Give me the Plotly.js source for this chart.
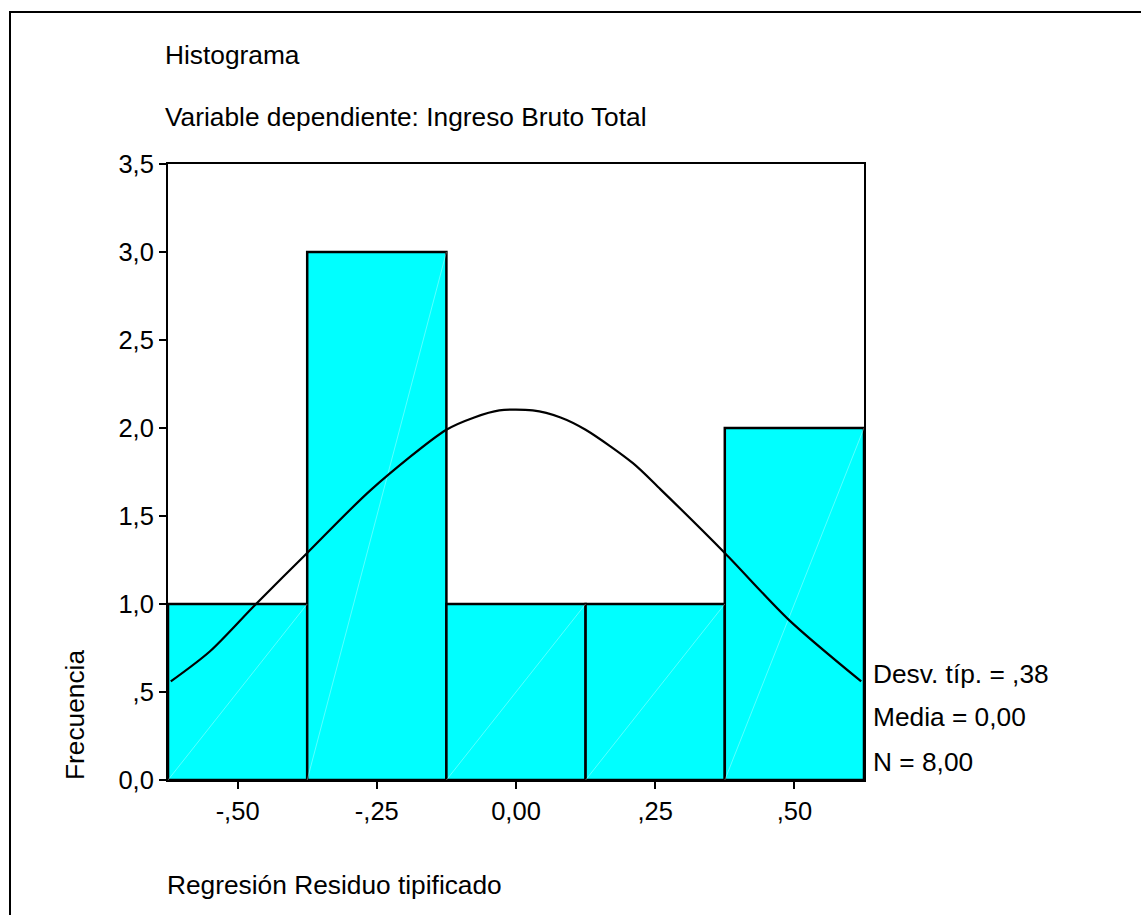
<!DOCTYPE html>
<html>
<head>
<meta charset="utf-8">
<script src="https://cdn.plot.ly/plotly-3.0.1.min.js"></script>
<style>
  html, body { margin: 0; padding: 0; background: #fff; }
  #chart { width: 1141px; height: 915px; }
</style>
</head>
<body>
<div id="chart"></div>
<script>
// ---- Data ----
const binCenters = [-0.50, -0.25, 0.00, 0.25, 0.50];
const binWidth = 0.25;
const counts = [1, 3, 1, 1, 2];

const curveX = [-0.62, -0.55, -0.47, -0.375, -0.26, -0.125, -0.075, -0.03, 0.03, 0.08, 0.125, 0.21, 0.26, 0.375, 0.49, 0.62];
const curveY = [0.56, 0.73, 0.99, 1.29, 1.65, 1.99, 2.06, 2.10, 2.10, 2.06, 1.99, 1.80, 1.65, 1.29, 0.91, 0.56];

const xTickVals = [-0.50, -0.25, 0.00, 0.25, 0.50];
const xTickText = ['-,50', '-,25', '0,00', ',25', ',50'];
const yTickVals = [0, 0.5, 1, 1.5, 2, 2.5, 3, 3.5];
const yTickText = ['0,0', ',5', '1,0', '1,5', '2,0', '2,5', '3,0', '3,5'];

const titleLines = ['Histograma', 'Variable dependiente: Ingreso Bruto Total'];
const statsLines = ['Desv. típ. = ,38', 'Media = 0,00', 'N = 8,00'];
const xTitle = 'Regresión Residuo tipificado';
const yTitle = 'Frecuencia';

// ---- Layout geometry (pixels) ----
const W = 1141, H = 915;
const L = 168, T = 164, R = 864, B = 780;
const pw = R - L, ph = B - T;
const px = v => (v - L) / pw;
const py = v => (B - v) / ph;

const FONT = 'Liberation Sans, Arial, sans-serif';
const FS = 25.5;   // tick labels
const FT = 26.3;   // texts

// diagonal hatch artefacts inside bars (derived from bar geometry)
const diagX = [], diagY = [];
binCenters.forEach((c, i) => {
  diagX.push(c - binWidth / 2, c + binWidth / 2, null);
  diagY.push(0, counts[i], null);
});

const traces = [
  {
    type: 'bar', x: binCenters, y: counts, width: binWidth,
    marker: { color: '#00FFFF', line: { color: '#000', width: 2.5 } },
    hoverinfo: 'skip', showlegend: false
  },
  {
    type: 'scatter', mode: 'lines', x: diagX, y: diagY,
    line: { color: 'rgba(255,255,255,0.35)', width: 1 },
    hoverinfo: 'skip', showlegend: false
  },
  {
    type: 'scatter', mode: 'lines', x: curveX, y: curveY,
    line: { color: '#000', width: 2.2, shape: 'spline', smoothing: 0.8 },
    hoverinfo: 'skip', showlegend: false
  }
];

const ann = [];
const titleY = [55, 117];
titleLines.forEach((t, i) => ann.push({
  text: t, xref: 'paper', yref: 'paper', x: px(163), y: py(titleY[i]),
  xanchor: 'left', yanchor: 'middle', showarrow: false,
  font: { family: FONT, size: FT, color: '#000' }
}));
const statsY = [674, 717, 762];
statsLines.forEach((t, i) => ann.push({
  text: t, xref: 'paper', yref: 'paper', x: px(871), y: py(statsY[i]),
  xanchor: 'left', yanchor: 'middle', showarrow: false,
  font: { family: FONT, size: FT, color: '#000' }
}));
ann.push({
  text: xTitle, xref: 'paper', yref: 'paper', x: px(165), y: py(885),
  xanchor: 'left', yanchor: 'middle', showarrow: false,
  font: { family: FONT, size: FT, color: '#000' }
});
ann.push({
  text: yTitle, xref: 'paper', yref: 'paper', x: px(75), y: py(782),
  xanchor: 'center', yanchor: 'bottom', textangle: -90, showarrow: false,
  font: { family: FONT, size: FT, color: '#000' }
});

const layout = {
  width: W, height: H,
  margin: { l: L, r: W - R, t: T, b: H - B, pad: 0 },
  paper_bgcolor: '#fff', plot_bgcolor: '#fff',
  font: { family: FONT, size: FS, color: '#000' },
  bargap: 0,
  showlegend: false,
  xaxis: {
    range: [-0.625, 0.625], tickvals: xTickVals, ticktext: xTickText,
    showgrid: false, zeroline: false, showline: true, mirror: true,
    linecolor: '#000', linewidth: 2,
    ticks: 'outside', ticklen: 7, tickwidth: 2, tickcolor: '#000',
    tickfont: { family: FONT, size: FS, color: '#000' },
    fixedrange: true
  },
  yaxis: {
    range: [0, 3.5], tickvals: yTickVals, ticktext: yTickText,
    showgrid: false, zeroline: false, showline: true, mirror: true,
    linecolor: '#000', linewidth: 2,
    ticks: 'outside', ticklen: 7, tickwidth: 2, tickcolor: '#000',
    tickfont: { family: FONT, size: FS, color: '#000' },
    fixedrange: true
  },
  annotations: ann,
  shapes: [{
    type: 'rect', xref: 'paper', yref: 'paper',
    x0: px(10), x1: px(1160), y0: py(940), y1: py(12),
    line: { color: '#000', width: 2 }, fillcolor: 'rgba(0,0,0,0)', layer: 'below'
  }]
};

Plotly.newPlot('chart', traces, layout, { staticPlot: true, displayModeBar: false });
</script>
</body>
</html>
